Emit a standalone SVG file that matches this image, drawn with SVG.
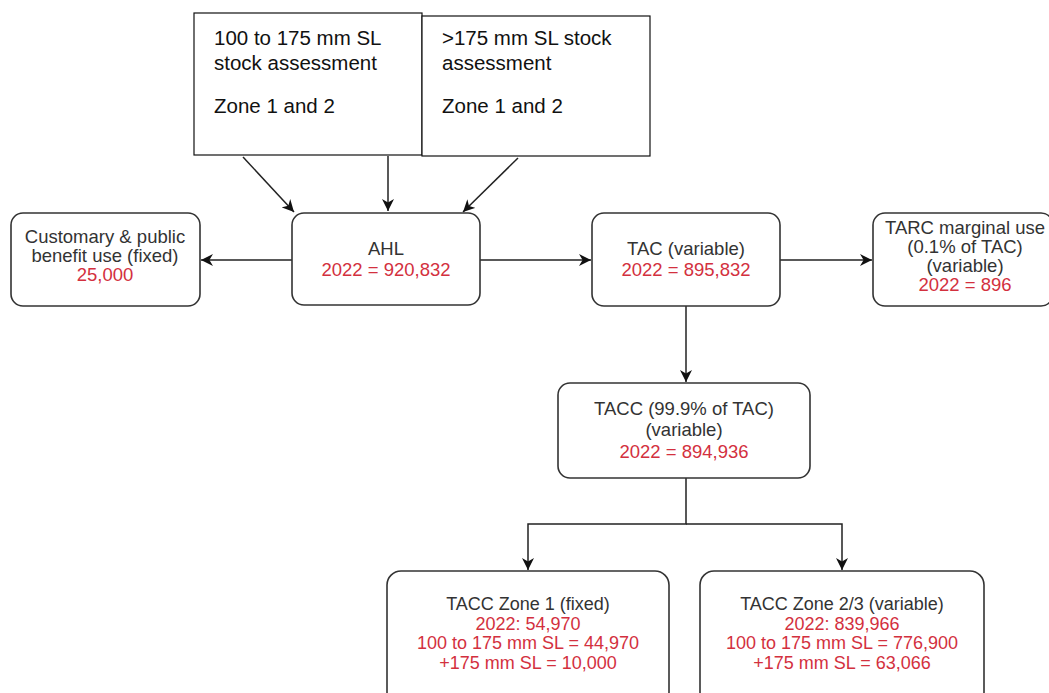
<svg xmlns="http://www.w3.org/2000/svg" width="1049" height="693" viewBox="0 0 1049 693">
<style>
.box{fill:#fff;stroke:#333;stroke-width:1.6}
.sq{fill:#fff;stroke:#111;stroke-width:1.2}
.t{font-family:"Liberation Sans",Arial,sans-serif;font-size:18.5px;fill:#333;text-anchor:middle}
.r{fill:#d3303e}
.z{font-size:18px}
.q{font-family:"Liberation Sans",Arial,sans-serif;font-size:20.5px;fill:#111}
.c{fill:none;stroke:#222;stroke-width:1.5}
</style>
<defs>
<marker id="ah" viewBox="0 0 10 10" refX="10" refY="5" markerWidth="12" markerHeight="12" markerUnits="userSpaceOnUse" orient="auto">
<path d="M0,0 L10,5 L0,10 L3,5 Z" fill="#111"/>
</marker>
</defs>
<rect width="1049" height="693" fill="#fff"/>
<g id="connectors">
<line class="c" x1="243" y1="157" x2="294" y2="212" marker-end="url(#ah)"/>
<line class="c" x1="388" y1="156" x2="388" y2="211" marker-end="url(#ah)"/>
<line class="c" x1="518" y1="158" x2="463" y2="212" marker-end="url(#ah)"/>
<line class="c" x1="292" y1="260" x2="201" y2="260" marker-end="url(#ah)"/>
<line class="c" x1="480" y1="260" x2="591" y2="260" marker-end="url(#ah)"/>
<line class="c" x1="780" y1="260" x2="872" y2="260" marker-end="url(#ah)"/>
<line class="c" x1="686" y1="306" x2="686" y2="382" marker-end="url(#ah)"/>
<polyline class="c" points="686,478 686,524 528,524 528,570" marker-end="url(#ah)"/>
<polyline class="c" points="686,524 842,524 842,570" marker-end="url(#ah)"/>
</g>
<g id="box-small-stock">
<rect class="sq" x="194" y="13" width="228" height="142"/>
<text class="q" x="214" y="45">100 to 175 mm SL</text>
<text class="q" x="214" y="70">stock assessment</text>
<text class="q" x="214" y="113">Zone 1 and 2</text>
</g>
<g id="box-large-stock">
<rect class="sq" x="422" y="16" width="228" height="140"/>
<text class="q" x="442" y="45">&gt;175 mm SL stock</text>
<text class="q" x="442" y="70">assessment</text>
<text class="q" x="442" y="113">Zone 1 and 2</text>
</g>
<g id="customary">
<rect class="box" x="11" y="213" width="189" height="93" rx="12"/>
<text class="t" x="105" y="243">Customary &amp; public</text>
<text class="t" x="105" y="262">benefit use (fixed)</text>
<text class="t r" x="105" y="281">25,000</text>
</g>
<g id="ahl">
<rect class="box" x="292" y="213" width="188" height="92" rx="12"/>
<text class="t" x="386" y="255">AHL</text>
<text class="t r" x="386" y="276">2022 = 920,832</text>
</g>
<g id="tac">
<rect class="box" x="592" y="213" width="188" height="93" rx="12"/>
<text class="t" x="686" y="255">TAC (variable)</text>
<text class="t r" x="686" y="276">2022 = 895,832</text>
</g>
<g id="tarc">
<rect class="box" x="873" y="213" width="180" height="93" rx="12"/>
<text class="t" x="965" y="234">TARC marginal use</text>
<text class="t" x="965" y="253">(0.1% of TAC)</text>
<text class="t" x="965" y="272">(variable)</text>
<text class="t r" x="965" y="291">2022 = 896</text>
</g>
<g id="tacc">
<rect class="box" x="558" y="383" width="252" height="95" rx="12"/>
<text class="t" x="684" y="415">TACC (99.9% of TAC)</text>
<text class="t" x="684" y="436">(variable)</text>
<text class="t r" x="684" y="458">2022 = 894,936</text>
</g>
<g id="tacc-zone1">
<rect class="box" x="387" y="571" width="282" height="135" rx="14"/>
<text class="t z" x="528" y="610">TACC Zone 1 (fixed)</text>
<text class="t z r" x="528" y="629.5">2022: 54,970</text>
<text class="t z r" x="528" y="649">100 to 175 mm SL = 44,970</text>
<text class="t z r" x="528" y="668.5">+175 mm SL = 10,000</text>
</g>
<g id="tacc-zone23">
<rect class="box" x="700" y="571" width="284" height="135" rx="14"/>
<text class="t z" x="842" y="610">TACC Zone 2/3 (variable)</text>
<text class="t z r" x="842" y="629.5">2022: 839,966</text>
<text class="t z r" x="842" y="649">100 to 175 mm SL = 776,900</text>
<text class="t z r" x="842" y="668.5">+175 mm SL = 63,066</text>
</g>
</svg>
